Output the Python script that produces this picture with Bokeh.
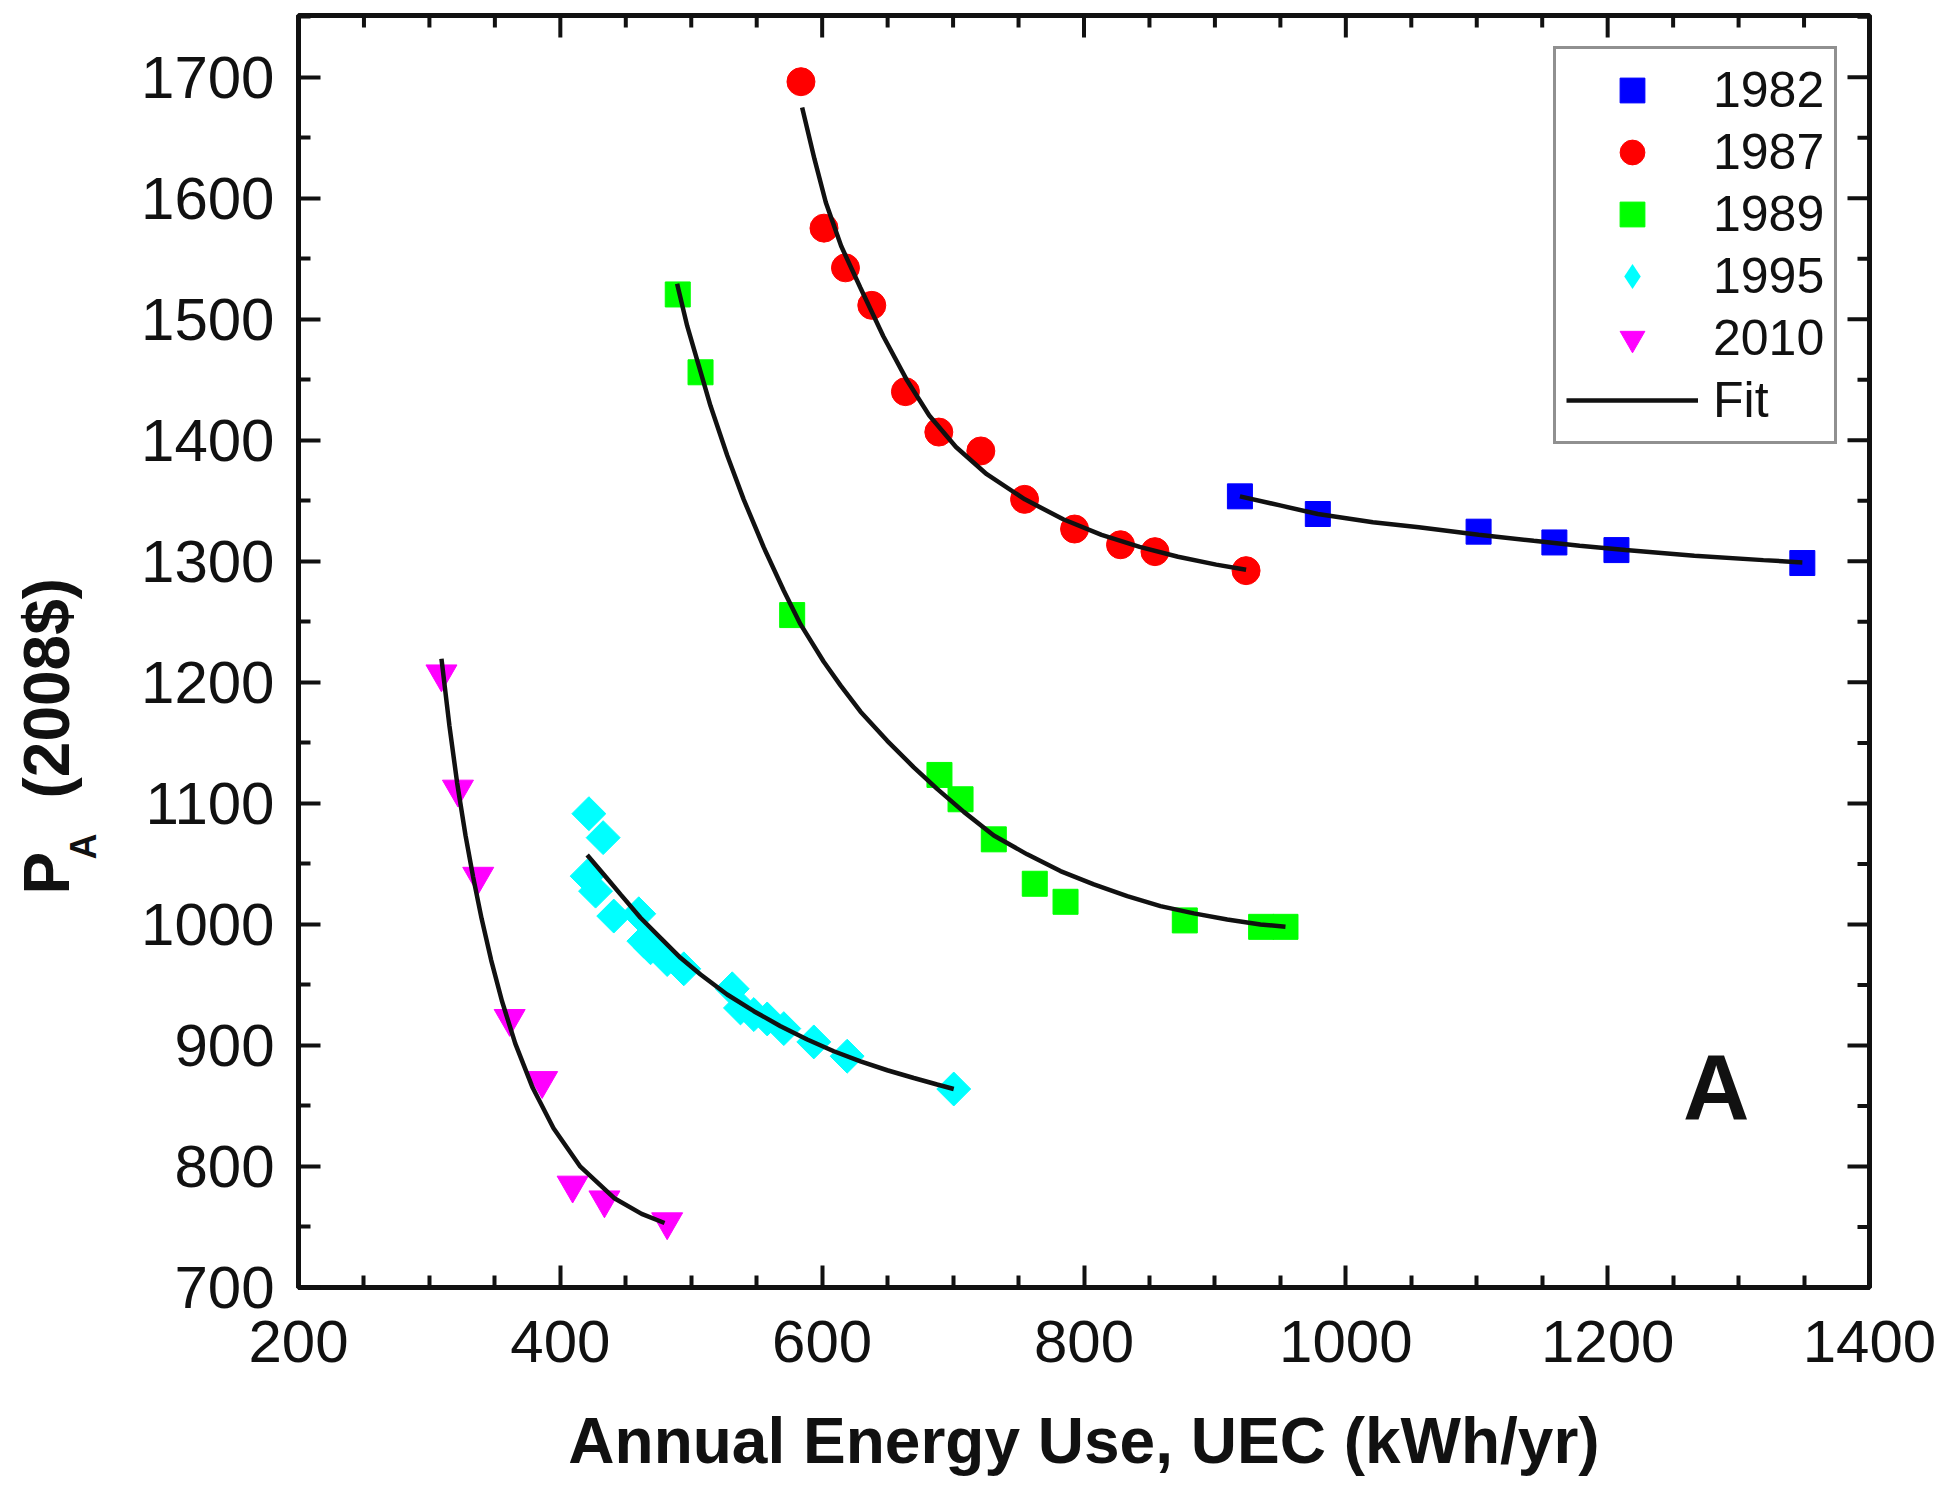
import math
from bokeh.plotting import figure
from bokeh.models import (Range1d, FixedTicker, Label, Legend, LegendItem, ColumnDataSource, Title)
from bokeh.embed import file_html
from bokeh.resources import INLINE

# ---------------- data ----------------
series_labels = ["1982", "1987", "1989", "1995", "2010"]
fit_label = "Fit"

x_1982 = [919.1, 978.6, 1101.4, 1159.3, 1206.7, 1348.7]
y_1982 = [1353.7, 1339.1, 1324.5, 1315.6, 1309.3, 1298.6]
fit_x_1982 = [919.1, 950.6, 978.6, 1020.7, 1055.8, 1101.4, 1143.5, 1178.6, 1213.7, 1266.2, 1318.9, 1348.7]
fit_y_1982 = [1353.7, 1346.0, 1339.1, 1332.3, 1328.2, 1322.0, 1317.0, 1312.9, 1309.3, 1304.6, 1301.0, 1299.1]

x_1987 = [583.8, 601.4, 617.8, 637.9, 663.6, 689.1, 721.2, 754.6, 792.8, 827.9, 854.2, 923.8]
y_1987 = [1696.3, 1575.3, 1542.5, 1511.5, 1440.2, 1406.8, 1391.2, 1351.2, 1326.7, 1313.7, 1308.0, 1292.3]
fit_x_1987 = [584.7, 594.1, 602.8, 614.5, 629.2, 646.7, 664.3, 681.8, 702.2, 725.7, 754.8, 784.1, 813.4,
              842.5, 871.8, 901.0, 923.8]
fit_y_1987 = [1675.0, 1632.5, 1596.5, 1560.5, 1526.0, 1486.0, 1450.5, 1420.5, 1394.5, 1372.0, 1351.2, 1334.8,
              1321.8, 1312.0, 1303.8, 1297.3, 1293.0]

x_1989 = [489.7, 507.1, 577.1, 689.6, 705.7, 731.1, 762.4, 785.9, 877.0, 935.3, 953.9]
y_1989 = [1520.5, 1456.2, 1255.6, 1123.5, 1103.4, 1070.3, 1033.6, 1018.7, 1003.3, 998.0, 998.0]
fit_x_1989 = [489.2, 496.9, 505.8, 514.7, 527.5, 540.1, 555.4, 570.7, 583.4, 601.2, 614.0, 629.3, 649.7,
              670.0, 687.8, 708.2, 731.1, 756.6, 782.0, 807.5, 833.0, 858.4, 883.9, 909.4, 934.8, 953.9]
fit_y_1989 = [1529.4, 1494.5, 1461.5, 1428.5, 1387.5, 1351.0, 1311.5, 1275.7, 1248.1, 1217.0, 1197.5, 1175.8,
              1151.7, 1129.8, 1112.0, 1093.0, 1073.5, 1057.9, 1044.1, 1033.1, 1023.4, 1015.1, 1009.1,
              1004.1, 1000.0, 998.0]

x_1995 = [421.8, 432.7, 420.5, 426.9, 440.8, 459.9, 463.8, 468.9, 481.6, 494.3, 531.3, 537.6, 547.8, 558.0,
          570.7, 593.6, 619.1, 700.5]
y_1995 = [1091.5, 1071.7, 1039.9, 1027.5, 1006.9, 1008.8, 986.2, 980.7, 971.0, 963.3, 946.8, 931.0, 925.5, 921.9,
          913.9, 902.9, 891.1, 864.0]
fit_x_1995 = [420.5, 433.2, 446.0, 461.2, 476.5, 491.8, 507.1, 527.4, 547.8, 568.2, 588.6, 608.9, 629.3, 649.7,
              670.0, 687.8, 700.5]
fit_y_1995 = [1057.3, 1041.3, 1024.8, 1005.5, 988.9, 972.4, 958.6, 942.1, 928.3, 915.9, 904.9, 895.2, 886.9, 879.5,
              873.1, 867.7, 864.0]

x_2010 = [309.2, 321.8, 337.3, 361.3, 386.1, 409.4, 433.7, 481.6]
y_2010 = [1207.0, 1111.8, 1039.8, 922.3, 871.0, 784.6, 772.4, 754.3]
fit_x_2010 = [309.2, 315.3, 321.2, 327.6, 333.4, 339.9, 347.2, 355.4, 365.6, 378.8, 394.8, 415.3, 441.6,
              462.1, 479.6]
fit_y_2010 = [1219.5, 1164.0, 1116.8, 1073.3, 1039.1, 1004.6, 970.3, 936.7, 901.5, 865.2, 831.6, 799.8, 773.5,
              760.8, 753.3]

x_min, x_max = 200, 1400
y_min, y_max = 700, 1751
x_ticks = [200, 400, 600, 800, 1000, 1200, 1400]
x_minor_ticks = [v for v in range(200, 1401, 50) if v not in x_ticks]
y_ticks = [700, 800, 900, 1000, 1100, 1200, 1300, 1400, 1500, 1600, 1700]
y_minor_ticks = [v for v in range(700, 1751, 50) if v not in y_ticks]

NBSP = "\u00a0"
x_title = "Annual Energy Use, UEC (kWh/yr)"
y_title_main = "P" + NBSP * 3 + "(2008$)"
y_title_sub = "A" + NBSP * 39      # padded so the centred label sits at the foot of the title
panel_tag = "A"

# ---------------- figure ----------------
FONT = "Liberation Sans"
INK = "#111111"

p = figure(width=1948, height=1486,
           x_range=Range1d(x_min, x_max), y_range=Range1d(y_min, y_max),
           output_backend="svg", toolbar_location=None,
           min_border_left=298, min_border_right=79,
           min_border_top=15, min_border_bottom=199,
           background_fill_color="white", border_fill_color="white")
p.xgrid.visible = False
p.ygrid.visible = False
p.outline_line_color = INK
p.outline_line_width = 5
p.outline_line_alpha = 1.0


def style_axis(ax, ticks, minor):
    ax.ticker = FixedTicker(ticks=ticks, minor_ticks=minor)
    ax.axis_line_width = 5
    ax.axis_line_color = INK
    ax.major_tick_in = 22
    ax.major_tick_out = 0
    ax.minor_tick_in = 12
    ax.minor_tick_out = 0
    ax.major_tick_line_width = 4
    ax.minor_tick_line_width = 4
    ax.major_tick_line_color = INK
    ax.minor_tick_line_color = INK
    ax.major_label_text_font = FONT
    ax.major_label_text_font_size = "60px"
    ax.major_label_text_color = INK


style_axis(p.xaxis[0], x_ticks, x_minor_ticks)
style_axis(p.yaxis[0], y_ticks, y_minor_ticks)
p.xaxis.major_label_standoff = 33
p.yaxis.major_label_standoff = 24
p.xaxis.axis_label = x_title
p.xaxis.axis_label_text_font = FONT
p.xaxis.axis_label_text_font_size = "64px"
p.xaxis.axis_label_text_font_style = "bold"
p.xaxis.axis_label_text_color = INK
p.xaxis.axis_label_standoff = 40

# y title: subscript as the axis label (next to the tick labels), main text as an outer title
p.yaxis.axis_label = y_title_sub
p.yaxis.axis_label_text_font = FONT
p.yaxis.axis_label_text_font_size = "36px"
p.yaxis.axis_label_text_font_style = "bold"
p.yaxis.axis_label_text_color = INK
p.yaxis.axis_label_standoff = 34
p.add_layout(Title(text=y_title_main, align="left", offset=393, vertical_align="bottom", standoff=-44,
                   text_font=FONT, text_font_size="64px", text_font_style="bold",
                   text_color=INK), "left")

# inward ticks on the top and right edges (half of each dash is clipped by the frame)
p.scatter(x_ticks, [y_max] * len(x_ticks), marker="dash", size=44, angle=math.pi / 2,
          line_color=INK, line_width=4)
p.scatter(x_minor_ticks, [y_max] * len(x_minor_ticks), marker="dash", size=24, angle=math.pi / 2,
          line_color=INK, line_width=4)
p.scatter([x_max] * len(y_ticks), y_ticks, marker="dash", size=44,
          line_color=INK, line_width=4)
p.scatter([x_max] * len(y_minor_ticks), y_minor_ticks, marker="dash", size=24,
          line_color=INK, line_width=4)

# ---------------- data glyphs ----------------
r82 = p.scatter(x_1982, y_1982, marker="square", size=25, color="#0000FF")
r87 = p.scatter(x_1987, y_1987, marker="circle", size=28, color="#FF0000")
r89 = p.scatter(x_1989, y_1989, marker="square", size=25, color="#00FF00")
r95 = p.scatter(x_1995, y_1995, marker="square", size=24, angle=math.pi / 4, color="#00FFFF")
r10 = p.scatter(x_2010, y_2010, marker="inverted_triangle", size=31, color="#FF00FF")
# zero-size twin of the 1995 series: only used so that the legend shows a diamond symbol
r95_key = p.scatter(x_1995, y_1995, marker="diamond", size=0, fill_color="#00FFFF", line_color=None)

fit_src = ColumnDataSource(dict(
    xs=[fit_x_1982, fit_x_1987, fit_x_1989, fit_x_1995, fit_x_2010],
    ys=[fit_y_1982, fit_y_1987, fit_y_1989, fit_y_1995, fit_y_2010]))
rfit = p.multi_line("xs", "ys", source=fit_src, line_color=INK, line_width=4.5)

# ---------------- legend ----------------
items = [LegendItem(label=lab, renderers=[r]) for lab, r in
         zip(series_labels, [r82, r87, r89, r95_key, r10])]
items.append(LegendItem(label=fit_label, renderers=[rfit]))
legend = Legend(items=items, location=(1255, 843),
                label_text_font=FONT, label_text_font_size="50px", label_text_color=INK,
                glyph_width=132, glyph_height=62, label_height=56, label_standoff=15,
                spacing=0, padding=10, margin=0,
                border_line_color="#222222", border_line_width=3,
                background_fill_color="white", background_fill_alpha=1.0)
p.add_layout(legend)

# ---------------- panel tag ----------------
p.add_layout(Label(x=1283, y=866, text=panel_tag,
                   text_font=FONT, text_font_size="92px", text_font_style="bold",
                   text_color=INK, text_align="center", text_baseline="middle"))

open("out.html", "w").write(file_html(p, INLINE))
